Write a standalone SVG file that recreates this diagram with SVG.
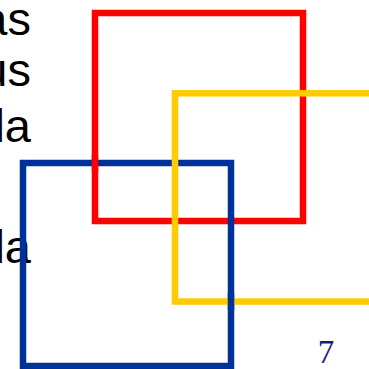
<svg xmlns="http://www.w3.org/2000/svg" width="369" height="369" viewBox="0 0 369 369">
<style>
.t{font-family:"Liberation Sans",Arial,sans-serif;font-size:47px;fill:#000;text-anchor:end}
.sq{fill:none;stroke-width:6.5}
.r{stroke:#FF0000}
.y{stroke:#FFCC00}
.b{stroke:#003399}
</style>
<rect width="369" height="369" fill="#fff"/>
<g id="text">
<text class="t" x="31" y="35">as</text>
<text class="t" x="31" y="86">us</text>
<text class="t" x="31" y="142">la</text>
<text class="t" x="31" y="263">la</text>
</g>
<g id="red-square"><rect class="sq r" x="95" y="13" width="208" height="208"/></g>
<g id="blue-square"><rect class="sq b" x="23" y="163" width="208" height="203"/></g>
<g id="yellow-square"><rect class="sq y" x="175" y="93.3" width="208" height="208.2"/></g>
<g id="weave">
<line class="sq r" x1="95" y1="155" x2="95" y2="171"/>
<line class="sq b" x1="231" y1="293" x2="231" y2="310"/>
</g>
<text x="326" y="363" font-family="'Liberation Serif','Times New Roman',serif" font-size="33" fill="#1a1a7e" text-anchor="middle">7</text>
</svg>
